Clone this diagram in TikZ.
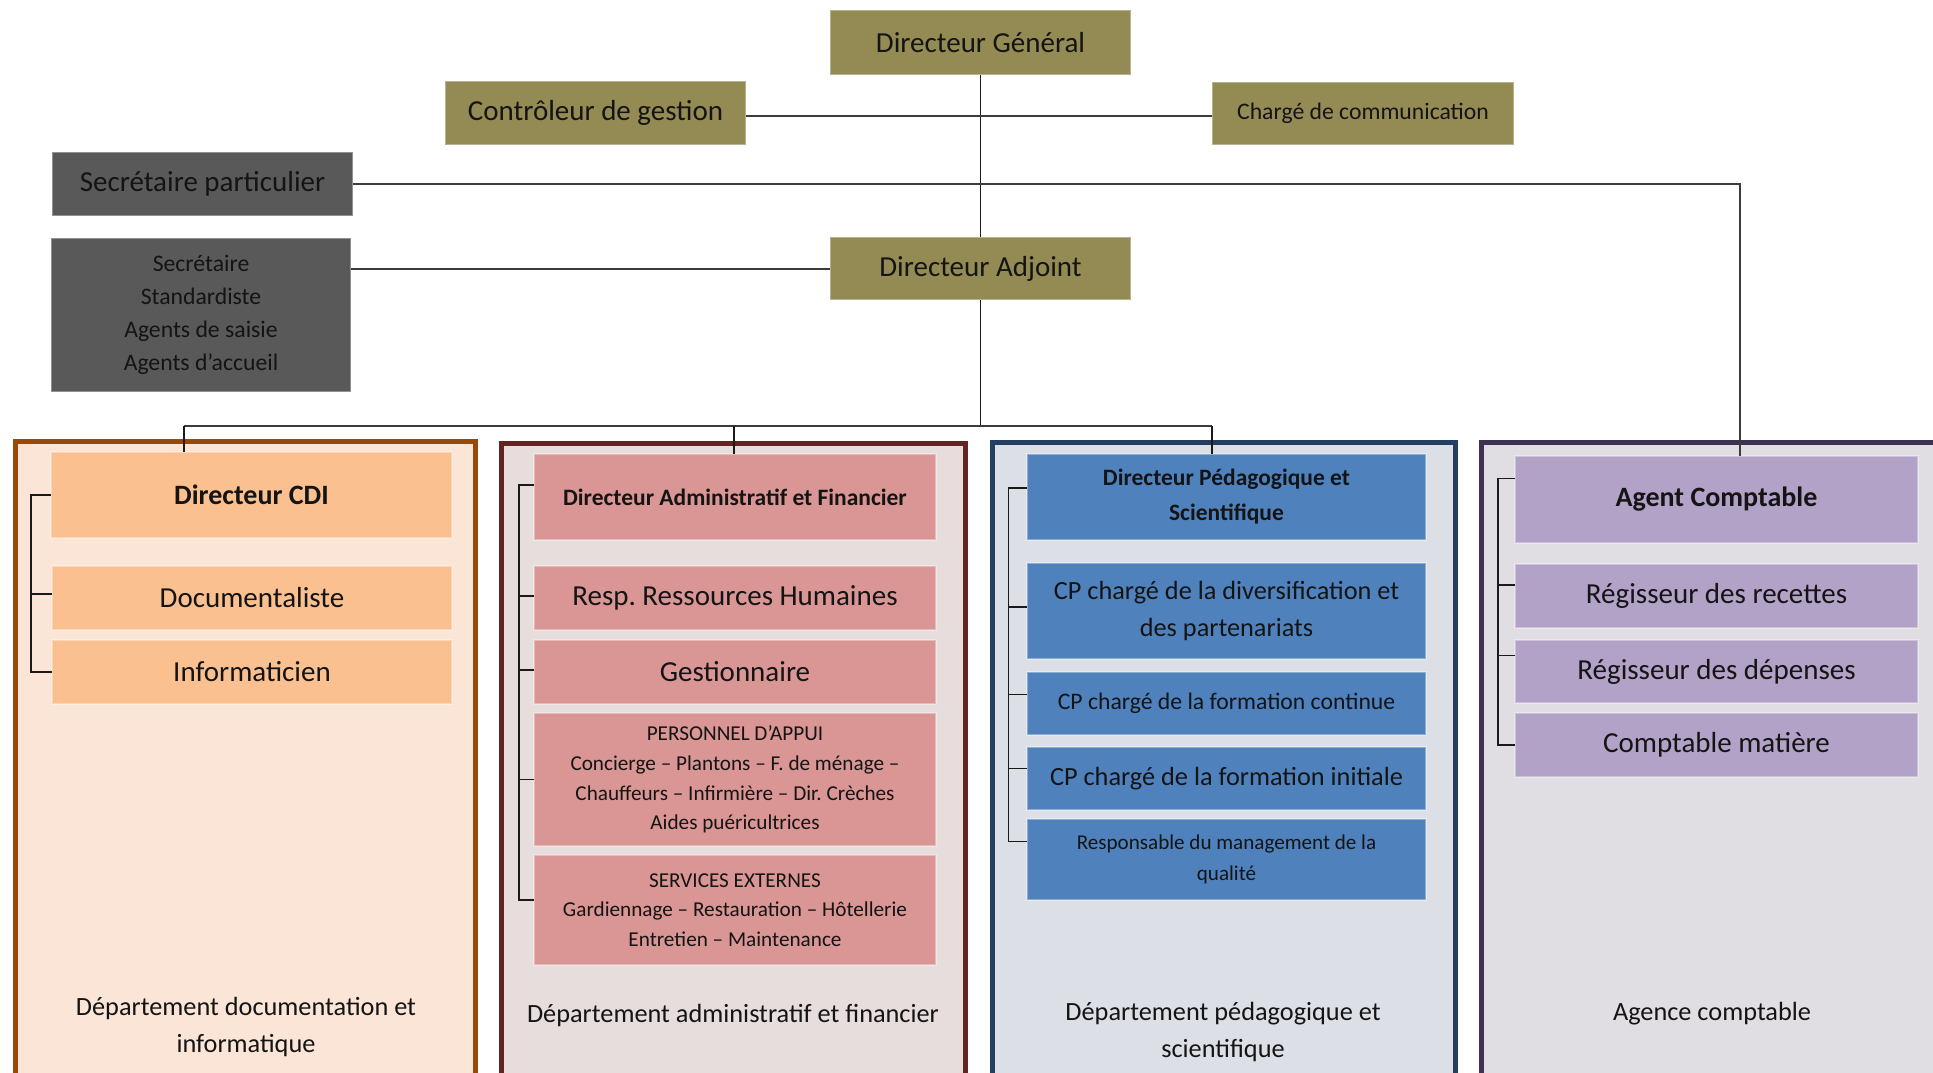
\documentclass[tikz,border=0pt]{standalone}
\usepackage{fontspec}
\setmainfont{Carlito}
\frenchspacing
\definecolor{cOlive}{HTML}{948A54}
\definecolor{cGrey}{HTML}{595959}
\definecolor{cTxt}{HTML}{141414}
\definecolor{cLine}{HTML}{1A1A1A}
\definecolor{cPeach}{HTML}{FAC090}
\definecolor{cPeachL}{HTML}{FBE5D6}
\definecolor{cBrown}{HTML}{984807}
\definecolor{cPink}{HTML}{D99694}
\definecolor{cPinkL}{HTML}{E7DDDD}
\definecolor{cMaroon}{HTML}{632423}
\definecolor{cBlue}{HTML}{4F81BD}
\definecolor{cBlueL}{HTML}{DCE0E6}
\definecolor{cNavy}{HTML}{243F60}
\definecolor{cPurp}{HTML}{B3A2C7}
\definecolor{cPurpL}{HTML}{E0DDE3}
\definecolor{cPlum}{HTML}{3F3151}
\newcommand{\fsL}{\fontsize{29}{35}\selectfont}
\newcommand{\fsLB}{\fontsize{28}{35}\selectfont\bfseries}
\newcommand{\fsM}{\fontsize{26.3}{37}\selectfont}
\newcommand{\fsS}{\fontsize{23.7}{33}\selectfont}
\newcommand{\fsSB}{\fontsize{23.5}{35}\selectfont\bfseries}
\newcommand{\fsX}{\fontsize{21.2}{29.6}\selectfont}
\newcommand{\fsXr}{\fontsize{21.1}{31}\selectfont}
\begin{document}
\begin{tikzpicture}[x=1pt,y=-1pt,
  box/.style={rectangle, inner sep=1pt, outer sep=0pt, anchor=north west, align=center,
    text=cTxt, draw=white, draw opacity=0.35, line width=1.2pt},
  olbox/.style={box, fill=cOlive},
  grbox/.style={box, fill=cGrey},
  pebox/.style={box, fill=cPeach},
  pibox/.style={box, fill=cPink},
  blbox/.style={box, fill=cBlue},
  pubox/.style={box, fill=cPurp},
  panel/.style={rectangle, anchor=north west, inner sep=0pt, outer sep=0pt, line width=5pt},
  lbl/.style={align=center, text=cTxt, font=\fsM, inner sep=0pt},
  thin/.style={draw=cLine, line width=1.3pt},
  thick/.style={draw=cLine!85!white, line width=2pt}
]
\clip (0,0) rectangle (1933,1072);
\fill[white] (0,0) rectangle (1933,1072);

% panels
\node[panel, draw=cBrown, fill=cPeachL, minimum width=460.5pt, minimum height=660pt] (pn1) at (15,441.5) {};
\node[panel, draw=cMaroon, fill=cPinkL, minimum width=464pt, minimum height=660pt] (pn2) at (501.5,443.5) {};
\node[panel, draw=cNavy, fill=cBlueL, minimum width=463pt, minimum height=660pt] (pn3) at (992.5,442.5) {};
\node[panel, draw=cPlum, fill=cPurpL, minimum width=480pt, minimum height=660pt] (pn4) at (1481.5,442.5) {};

% top boxes
\node[olbox, minimum width=301pt, minimum height=65pt, font=\fsL] (dg) at (830,10) {Directeur Général};
\node[olbox, minimum width=301pt, minimum height=64pt, font=\fsL] (cg) at (445,81) {Contrôleur de gestion};
\node[olbox, minimum width=302pt, minimum height=63pt, font=\fsS] (cc) at (1212,82) {Chargé de communication};
\node[grbox, minimum width=301pt, minimum height=64pt, font=\fsL] (sp) at (52,152) {Secrétaire particulier};
\node[grbox, minimum width=300pt, minimum height=154pt, font=\fsS] (sl) at (51,238) {Secrétaire\\Standardiste\\Agents de saisie\\Agents d’accueil};
\node[olbox, minimum width=301pt, minimum height=63pt, font=\fsL] (da) at (830,237) {Directeur Adjoint};

% panel 1
\node[pebox, minimum width=401pt, minimum height=86pt, font=\fsLB] (dcdi) at (51,452) {Directeur CDI};
\node[pebox, minimum width=400pt, minimum height=64pt, font=\fsL] (doc) at (52,566) {Documentaliste};
\node[pebox, minimum width=400pt, minimum height=64pt, font=\fsL] (info) at (52,640) {Informaticien};
\node[lbl] (l1) at (246,1027) {Département documentation et\\informatique};

% panel 2
\node[pibox, minimum width=402pt, minimum height=86pt, font=\fsSB] (daf) at (534,454) {Directeur Administratif et Financier};
\node[pibox, minimum width=402pt, minimum height=64pt, font=\fsL] (rh) at (534,566) {Resp. Ressources Humaines};
\node[pibox, minimum width=402pt, minimum height=64pt, font=\fsL] (gest) at (534,640) {Gestionnaire};
\node[pibox, minimum width=402pt, minimum height=133pt, font=\fsX] (pers) at (534,713) {PERSONNEL D’APPUI\\Concierge – Plantons – F. de ménage –\\Chauffeurs – Infirmière – Dir. Crèches\\Aides puéricultrices};
\node[pibox, minimum width=402pt, minimum height=110pt, font=\fsX] (serv) at (534,855) {SERVICES EXTERNES\\Gardiennage – Restauration – Hôtellerie\\Entretien – Maintenance};
\node[lbl] (l2) at (733,1015) {Département administratif et financier};

% panel 3
\node[blbox, minimum width=399pt, minimum height=86pt, font=\fsSB] (dps) at (1027,454) {Directeur Pédagogique et\\Scientifique};
\node[blbox, minimum width=399pt, minimum height=96pt, font=\fsM] (cpd) at (1027,563) {CP chargé de la diversification et\\des partenariats};
\node[blbox, minimum width=399pt, minimum height=63pt, font=\fsS] (cpc) at (1027,672) {CP chargé de la formation continue};
\node[blbox, minimum width=399pt, minimum height=63pt, font=\fsM] (cpi) at (1027,747) {CP chargé de la formation initiale};
\node[blbox, minimum width=399pt, minimum height=81pt, font=\fsXr] (resp) at (1027,819) {Responsable du management de la\\qualité};
\node[lbl] (l3) at (1223,1031.5) {Département pédagogique et\\scientifique};

% panel 4
\node[pubox, minimum width=403pt, minimum height=87pt, font=\fsLB] (ac) at (1515,456) {Agent Comptable};
\node[pubox, minimum width=403pt, minimum height=64pt, font=\fsL] (rec) at (1515,564) {Régisseur des recettes};
\node[pubox, minimum width=403pt, minimum height=63pt, font=\fsL] (dep) at (1515,640) {Régisseur des dépenses};
\node[pubox, minimum width=403pt, minimum height=64pt, font=\fsL] (mat) at (1515,713) {Comptable matière};
\node[lbl] (l4) at (1712,1014) {Agence comptable};

% top connectors
\coordinate (j1) at (dg.south |- sp.east);
\draw[thin] (dg.south) -- (da.north);
\draw[thick] ([yshift=-3pt]cg.east) -- ([yshift=-3pt]cg.east -| cc.west);
\draw[thick] (sp.east) -- (j1);
\draw[thick] (j1) -| ([xshift=23.5pt]ac.north);
\draw[thick] (da.west) -- (da.west -| sl.east);

% bus to departments
\coordinate (busC) at (980.5,426);
\coordinate (bus1) at (184,426);
\coordinate (bus2) at (734,426);
\coordinate (bus3) at (1212,426);
\draw[thin] (da.south) -- (busC);
\draw[thick] (bus1) -- (bus3);
\draw[thin] (bus1) -- (bus1 |- dcdi.north);
\draw[thin] (bus2) -- (bus2 |- daf.north);
\draw[thin] (bus3) -- (bus3 |- dps.north);

% brackets panel 1
\draw[thin] (dcdi.west) -- ++(-20,0) |- (info.west);
\draw[thin] ([yshift=4pt]doc.west) -- ++(-20,0);

% brackets panel 2
\draw[thin] ([yshift=12pt]daf.west) -- ++(-15,0) |- ([yshift=10pt]serv.west);
\draw[thin] ([yshift=2pt]rh.west) -- ++(-15,0);
\draw[thin] ([yshift=2pt]gest.west) -- ++(-15,0);
\draw[thin] (pers.west) -- ++(-15,0);

% brackets panel 3
\draw[thin] ([yshift=9pt]dps.west) -- ++(-18.5,0) |- ([yshift=18pt]resp.west);
\draw[thin] ([yshift=4pt]cpd.west) -- ++(-18.5,0);
\draw[thin] ([yshift=9pt]cpc.west) -- ++(-18.5,0);
\draw[thin] ([yshift=10pt]cpi.west) -- ++(-18.5,0);

% brackets panel 4
\draw[thin] ([yshift=21pt]ac.west) -- ++(-17,0) |- (mat.west);
\draw[thin] ([yshift=11pt]rec.west) -- ++(-17,0);
\draw[thin] ([yshift=16pt]dep.west) -- ++(-17,0);
\end{tikzpicture}
\end{document}
